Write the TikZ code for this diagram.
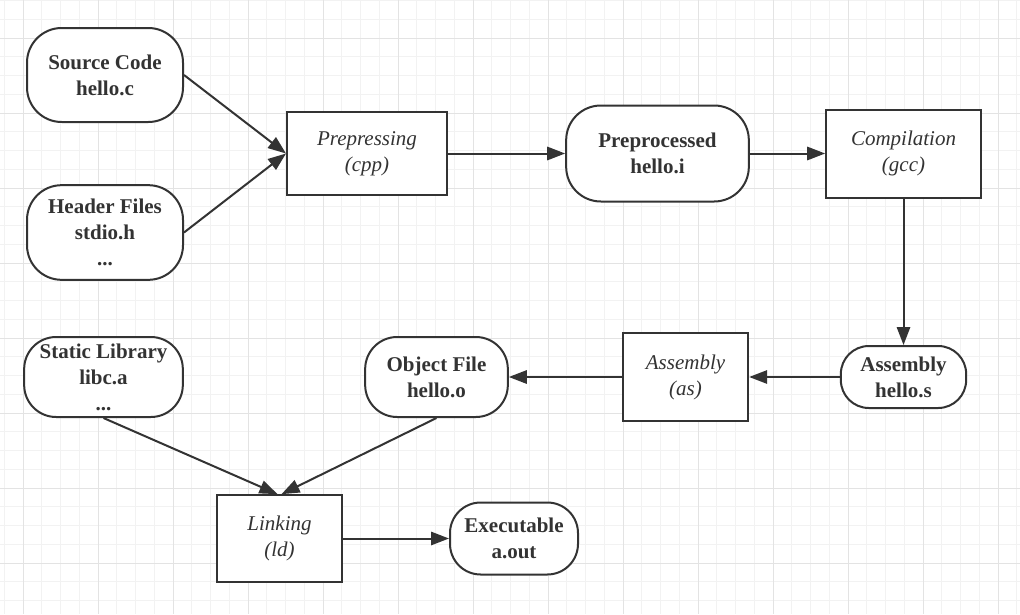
\documentclass[tikz,border=0pt]{standalone}
\usepackage{fontspec}
\setmainfont{Liberation Serif}
\usetikzlibrary{arrows.meta}
\definecolor{ink}{HTML}{333333}
\definecolor{gridminor}{HTML}{F2F2F2}
\definecolor{gridmajor}{HTML}{E3E3E3}
\begin{document}
\begin{tikzpicture}[x=0.75pt,y=-0.75pt,
  txt/.style={text=ink, align=center, inner sep=0pt,
    font=\fontsize{15.75}{19.5}\selectfont},
  proc/.style={txt, draw=ink, line width=1.5pt, fill=white,
    font=\fontsize{15.75}{19.5}\selectfont\itshape},
  data/.style={txt, draw=ink, line width=1.5pt, fill=white,
    rounded corners=#1, font=\fontsize{15.75}{19.5}\selectfont\bfseries},
  data/.default=26pt,
  flow/.style={draw=ink, line width=1.5pt,
    -{Triangle[length=13.5pt,width=10pt]}},
  minorline/.style={draw=gridminor, line width=0.75pt},
  majorline/.style={draw=gridmajor, line width=0.75pt}]

% page and background grid
\useasboundingbox (0,0) rectangle (1020,614);
\fill[white] (0,0) rectangle (1020,614);
\begin{scope}
  \clip (0,0) rectangle (1020,614);
  \foreach \k in {0,...,54} {
    \draw[minorline] ({4.25+18.75*\k},0) -- ++(0,614);
  }
  \foreach \k in {0,...,33} {
    \draw[minorline] (0,{0.5+18.75*\k}) -- ++(1020,0);
  }
  \foreach \k in {0,...,13} {
    \draw[majorline] ({23+75*\k},0) -- ++(0,614);
  }
  \foreach \k in {0,...,7} {
    \draw[majorline] (0,{38+75*\k}) -- ++(1020,0);
  }
\end{scope}

% files and tools
\node[data, minimum width=117pt, minimum height=70.5pt] (src) at (105,75)
  {Source Code\\hello.c};
\node[data, minimum width=117pt, minimum height=71pt] (hdr) at (105,232.5)
  {Header Files\\stdio.h\\...};
\node[proc, minimum width=120pt, minimum height=62pt] (cpp) at (367,153.5)
  {Prepressing\\(cpp)};
\node[data, minimum width=137pt, minimum height=72pt] (pre) at (657.5,153.5)
  {Preprocessed\\hello.i};
\node[proc, minimum width=116pt, minimum height=66pt] (gcc) at (903.5,153.5)
  {Compilation\\(gcc)};
\node[data=21pt, minimum width=94pt, minimum height=46.5pt] (asm) at (903.5,377)
  {Assembly\\hello.s};
\node[proc, minimum width=94pt, minimum height=66pt] (as) at (685.5,377)
  {Assembly\\(as)};
\node[data=24pt, minimum width=107pt, minimum height=60pt] (obj) at (436.5,377)
  {Object File\\hello.o};
\node[data=24pt, minimum width=119pt, minimum height=60pt] (lib) at (103.5,377)
  {Static Library\\libc.a\\...};
\node[proc, minimum width=94pt, minimum height=65pt] (ld) at (279.5,538.5)
  {Linking\\(ld)};
\node[data=23pt, minimum width=96pt, minimum height=54pt] (exe) at (514,538.5)
  {Executable\\a.out};

% build flow
\draw[flow] (src.east) -- (cpp.west);
\draw[flow] (hdr.east) -- (cpp.west);
\draw[flow] (cpp.east) -- (pre.west);
\draw[flow] (pre.east) -- (gcc.west);
\draw[flow] (gcc.south) -- (asm.north);
\draw[flow] (asm.west) -- (as.east);
\draw[flow] (as.west) -- (obj.east);
\draw[flow] (lib.south) -- ([xshift=-1.5pt]ld.north);
\draw[flow] (obj.south) -- ([xshift=1.5pt]ld.north);
\draw[flow] (ld.east) -- (exe.west);
\end{tikzpicture}
\end{document}
